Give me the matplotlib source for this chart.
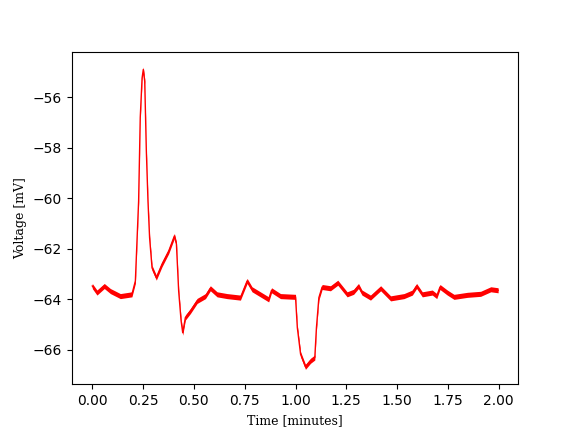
import numpy as np
import matplotlib
matplotlib.use("Agg")
import matplotlib.pyplot as plt

# membrane trace (time in minutes, voltage in mV)
time_min = [0.000, 0.023, 0.059, 0.089, 0.138, 0.195, 0.212, 0.228, 0.236, 0.245,
            0.251, 0.258, 0.266, 0.274, 0.282, 0.294, 0.315, 0.343, 0.376, 0.404,
            0.414, 0.425, 0.437, 0.445, 0.458, 0.483, 0.516, 0.557, 0.581, 0.614,
            0.663, 0.729, 0.762, 0.786, 0.827, 0.868, 0.882, 0.926, 1.000, 1.009,
            1.025, 1.049, 1.074, 1.095, 1.103, 1.115, 1.131, 1.172, 1.208, 1.254,
            1.286, 1.310, 1.327, 1.369, 1.419, 1.468, 1.534, 1.575, 1.596, 1.624,
            1.673, 1.695, 1.711, 1.747, 1.780, 1.846, 1.911, 1.961, 1.997]
voltage_mv = [-63.47, -63.73, -63.47, -63.67, -63.87, -63.80, -63.27, -60.10, -56.80, -55.24,
              -54.90, -55.37, -58.13, -60.10, -61.56, -62.75, -63.14, -62.61, -62.09, -61.49,
              -61.81, -63.67, -64.85, -65.32, -64.72, -64.46, -64.06, -63.87, -63.56, -63.80,
              -63.87, -63.93, -63.27, -63.60, -63.80, -64.00, -63.64, -63.87, -63.90, -65.12,
              -66.17, -66.67, -66.43, -66.30, -65.12, -63.93, -63.51, -63.56, -63.34, -63.80,
              -63.70, -63.47, -63.73, -63.93, -63.56, -63.96, -63.87, -63.73, -63.47, -63.80,
              -63.73, -63.87, -63.51, -63.73, -63.90, -63.82, -63.78, -63.60, -63.64]
noise_mv = 0.1

t = np.array(time_min)
v = np.array(voltage_mv)

fig, ax = plt.subplots(figsize=(5.76, 4.32), dpi=100)
ax.fill_between(t, v - noise_mv, v + noise_mv, color="red", linewidth=0)
ax.plot(t, v, color="red", linewidth=1.0)

ax.set_xlabel("Time [minutes]", fontfamily="DejaVu Serif", fontsize=9)
ax.set_ylabel("Voltage [mV]", fontfamily="DejaVu Serif", fontsize=9)

fig.savefig("out.png")
